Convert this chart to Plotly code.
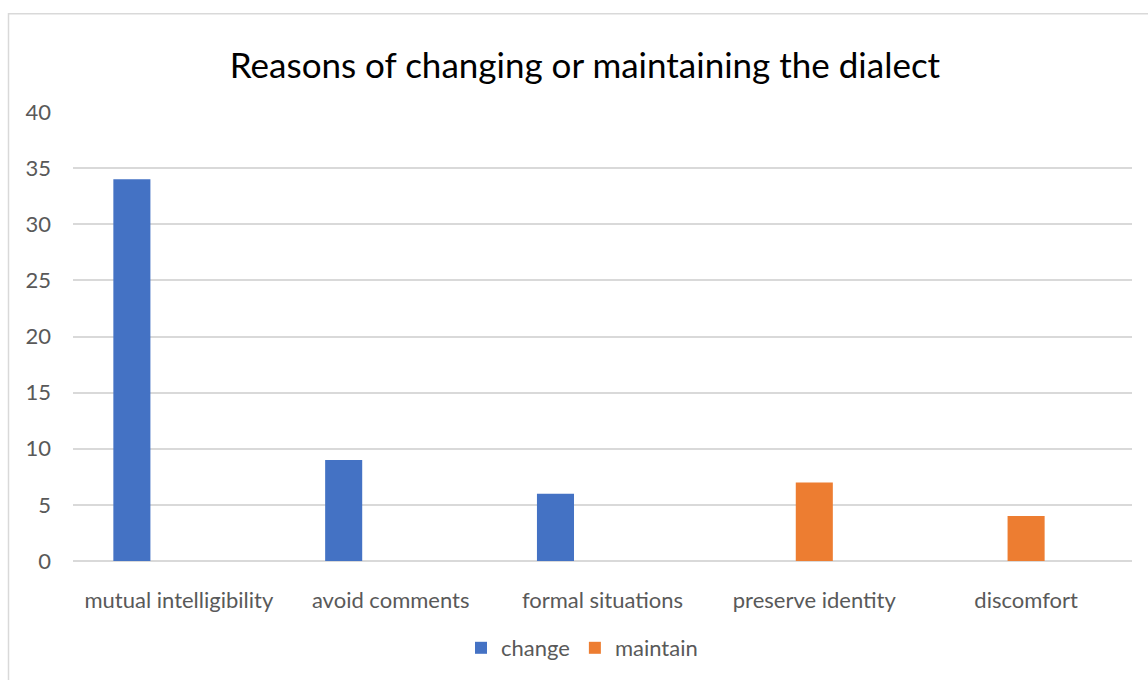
import plotly.graph_objects as go

# Survey answers: why speakers change or keep their dialect
categories = ["mutual intelligibility", "avoid comments", "formal situations",
              "preserve identity", "discomfort"]
change = [34, 9, 6, None, None]
maintain = [None, None, None, 7, 4]

BLUE = "#4472C4"
ORANGE = "#ED7D31"
GRID = "#D9D9D9"
TEXT = "#595959"
FONT = "Lato"
TICK_SIZE = 22

# plot-area geometry in pixels (figure is 1148 x 680)
W, H = 1148, 680
L, R, T, B = 73, 16, 112, 118
PW, PH = W - L - R, H - T - B

BAR_W = 0.175   # bar width as a fraction of one category slot
SLOT = 0.222    # distance between neighbouring series within a group

fig = go.Figure()
fig.add_trace(go.Bar(
    x=categories, y=change, name="change",
    marker=dict(color=BLUE, line=dict(width=0)),
    width=BAR_W, offset=-SLOT - BAR_W / 2,
))
fig.add_trace(go.Bar(
    x=categories, y=maintain, name="maintain",
    marker=dict(color=ORANGE, line=dict(width=0)),
    width=BAR_W, offset=-BAR_W / 2,
))

# light chart-area frame (top and left edges show inside the window)
fig.add_shape(
    type="rect", xref="paper", yref="paper",
    x0=(8.5 - L) / PW, x1=(W + 20 - L) / PW,
    y0=-(B + 20) / PH, y1=(H - B - 13.5) / PH,
    line=dict(color=GRID, width=1.5), fillcolor="rgba(0,0,0,0)",
    layer="below",
)

fig.update_layout(
    width=W, height=H,
    margin=dict(l=L, r=R, t=T, b=B),
    paper_bgcolor="white", plot_bgcolor="white",
    barmode="overlay",
    title=dict(
        text="Reasons of changing or maintaining the dialect",
        x=585 / W, xanchor="center", xref="container",
        y=1 - 66 / H, yanchor="middle", yref="container",
        font=dict(family=FONT, size=35, color="#000000"),
    ),
    font=dict(family=FONT, size=TICK_SIZE, color=TEXT),
    showlegend=True,
    legend=dict(
        orientation="h", x=(582 - L) / PW, xanchor="center",
        y=-(648 - (H - B)) / PH, yanchor="middle",
        font=dict(family=FONT, size=TICK_SIZE, color=TEXT),
        itemwidth=30, traceorder="normal",
        bgcolor="rgba(0,0,0,0)",
    ),
    xaxis=dict(
        type="category", showgrid=False, showline=False, ticks="",
        tickfont=dict(family=FONT, size=TICK_SIZE, color=TEXT),
        ticklabelstandoff=24, zeroline=False,
    ),
    yaxis=dict(
        range=[0, 40], dtick=5, showgrid=True, gridcolor=GRID, gridwidth=1.5,
        zeroline=True, zerolinecolor=GRID, zerolinewidth=1.5,
        showline=False, ticks="",
        tickfont=dict(family=FONT, size=TICK_SIZE, color=TEXT),
        ticklabelstandoff=21,
    ),
)

fig.write_html("out.html")
